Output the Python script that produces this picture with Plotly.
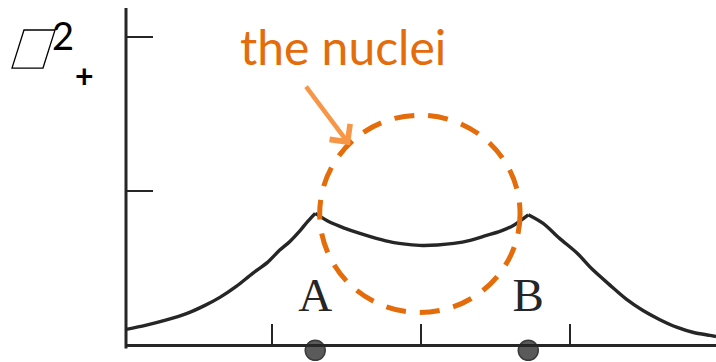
import plotly.graph_objects as go

# Position along the internuclear axis (bohr) and electron density
x_pos = [-1.98, -1.85, -1.72, -1.57, -1.45, -1.35, -1.24, -1.13, -1.03, -0.95,
         -0.88, -0.81, -0.76, -0.71,
         -0.61, -0.51, -0.41, -0.30, -0.19, -0.09, 0.01, 0.11, 0.22, 0.33,
         0.44, 0.53, 0.62, 0.72,
         0.82, 0.93, 1.05, 1.15, 1.27, 1.38, 1.49, 1.60, 1.72, 1.83, 1.94, 1.98]
density = [0.104, 0.130, 0.162, 0.208, 0.260, 0.312, 0.383, 0.468, 0.539, 0.617,
           0.675, 0.747, 0.805, 0.857,
           0.799, 0.760, 0.727, 0.695, 0.669, 0.656, 0.649, 0.652, 0.662, 0.682,
           0.714, 0.740, 0.779, 0.848,
           0.792, 0.695, 0.597, 0.494, 0.390, 0.299, 0.227, 0.169, 0.117, 0.084,
           0.065, 0.058]

# Nuclei positions and names
nuclei_x = [-0.71, 0.72]
nuclei_labels = ["A", "B"]

x_ticks = [-1, 0, 1]
y_ticks = [1, 2]

INK = "#262626"
ORANGE = "#E46C0A"
LIGHT_ORANGE = "#F79646"

Y_MIN, Y_MAX = -0.075, 2.19   # a little room below zero for the nucleus dots

# split the curve at the cusps so each piece is smooth but the peaks stay sharp
cusps = [i for i, xv in enumerate(x_pos) if xv in nuclei_x]
bounds = [0] + cusps + [len(x_pos) - 1]

fig = go.Figure()
for a, b in zip(bounds[:-1], bounds[1:]):
    fig.add_trace(go.Scatter(
        x=x_pos[a:b + 1], y=density[a:b + 1], mode="lines",
        line=dict(color=INK, width=3.4, shape="spline", smoothing=0.8),
        hoverinfo="skip", showlegend=False))

# nuclei on the axis
fig.add_trace(go.Scatter(
    x=nuclei_x, y=[-0.032] * len(nuclei_x), mode="markers",
    marker=dict(size=20, color="#5a5a5a", line=dict(color="#3a3a3a", width=1.5)),
    cliponaxis=False, hoverinfo="skip", showlegend=False))

# nucleus letters
fig.add_trace(go.Scatter(
    x=nuclei_x, y=[0.30] * len(nuclei_x), mode="text", text=nuclei_labels,
    textfont=dict(family="Liberation Serif", size=47, color=INK),
    textposition="middle center", hoverinfo="skip", showlegend=False))

# vertical axis spine, starting at the horizontal axis
fig.add_shape(type="line", xref="paper", yref="y", x0=0, x1=0, y0=-0.02, y1=Y_MAX,
              line=dict(color=INK, width=3))

# dashed circle around the bonding region
fig.add_shape(type="circle", xref="x", yref="y",
              x0=-0.68, x1=0.665, y0=0.214, y1=1.494,
              line=dict(color=ORANGE, width=5, dash="20px,14px"))

# callout text and arrow
fig.add_annotation(x=-0.523, y=1.94, xref="x", yref="y", text="the nuclei",
                   showarrow=False, font=dict(family="Lato", size=48, color=ORANGE),
                   xanchor="center", yanchor="middle")
fig.add_annotation(x=-0.477, y=1.30, xref="x", yref="y", text="",
                   showarrow=True, ax=-45, ay=-60, arrowcolor=LIGHT_ORANGE,
                   arrowwidth=4.5, arrowhead=4, arrowsize=1.1, standoff=0)

# axis label: psi squared, plus state
fig.add_shape(type="path", xref="paper", yref="paper",
              path="M -0.1932 0.8280 L -0.1407 0.8280 L -0.1203 0.9370 L -0.1729 0.9370 Z",
              line=dict(color="black", width=1.3))
fig.add_annotation(x=-0.1075, y=0.922, xref="paper", yref="paper", text="2",
                   showarrow=False, font=dict(family="Lato", size=38, color="black"),
                   xanchor="center", yanchor="middle")
fig.add_annotation(x=-0.0695, y=0.807, xref="paper", yref="paper", text="<b>+</b>",
                   showarrow=False, font=dict(family="Lato", size=32, color="black"),
                   xanchor="center", yanchor="middle")

fig.update_layout(
    width=716, height=362,
    margin=dict(l=126, r=0, t=8, b=5),
    paper_bgcolor="white", plot_bgcolor="white",
    xaxis=dict(range=[-1.98, 1.98], tickvals=x_ticks, showticklabels=False,
               anchor="free", position=(0 - Y_MIN) / (Y_MAX - Y_MIN),
               ticks="inside", ticklen=20, tickwidth=2, tickcolor=INK,
               showline=True, linewidth=3, linecolor=INK,
               showgrid=False, zeroline=False),
    yaxis=dict(range=[Y_MIN, Y_MAX], tickvals=y_ticks, showticklabels=False,
               ticks="inside", ticklen=27, tickwidth=2, tickcolor=INK,
               showline=False, showgrid=False, zeroline=False),
)

fig.write_html("out.html")
